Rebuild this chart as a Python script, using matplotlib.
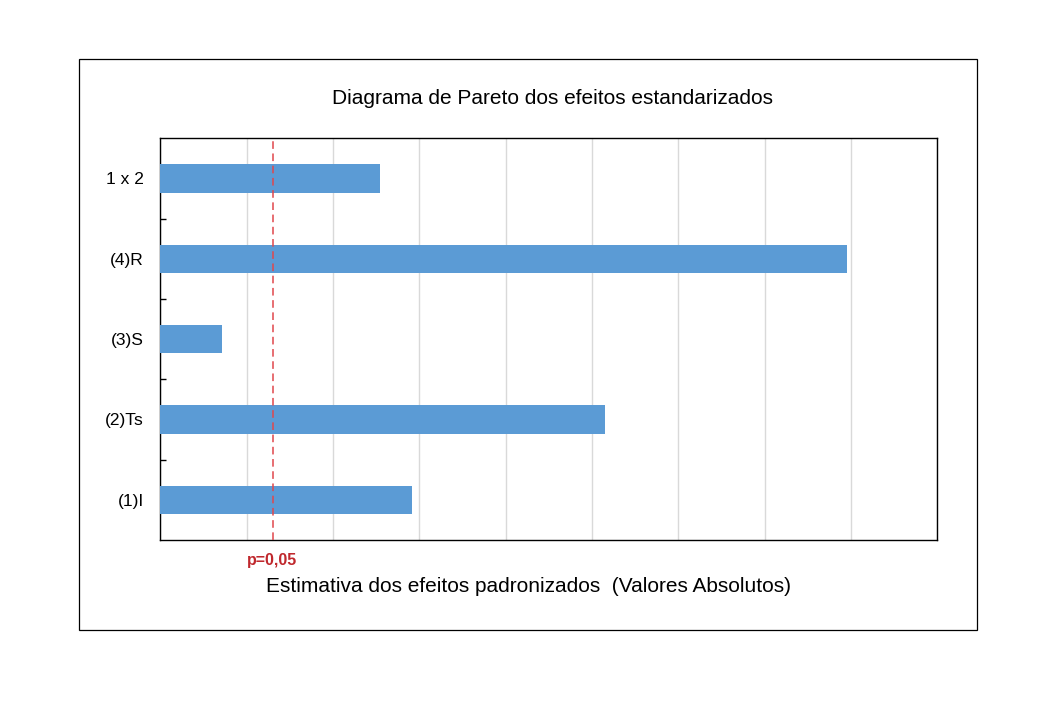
import matplotlib
matplotlib.use("Agg")
import matplotlib.pyplot as plt
from matplotlib.patches import Rectangle

plt.rcParams['font.family'] = ['Liberation Sans', 'DejaVu Sans']

categories = ["(1)I", "(2)Ts", "(3)S", "(4)R", "1 x 2"]
effects = [2.91, 5.15, 0.72, 7.95, 2.55]
p_value_line = 1.30
p_label = "p=0,05"
title = "Diagrama de Pareto dos efeitos estandarizados"
xlabel = "Estimativa dos efeitos padronizados  (Valores Absolutos)"

fig = plt.figure(figsize=(10.4, 7.2), dpi=100)
fig.patches.append(Rectangle((79/1040, 1-630/720), (977-79)/1040, (630-59)/720,
                             transform=fig.transFigure, fill=False,
                             edgecolor='black', linewidth=0.9))

ax = fig.add_axes([160.3/1040, 1-540/720, (937.3-160.3)/1040, (540-138.3)/720])
y = list(range(len(categories)))
ax.barh(y, effects, height=0.35, color='#5B9BD5', zorder=3)
ax.set_xlim(0, 9)
ax.set_ylim(-0.5, len(categories)-0.5)
ax.set_xticks(range(0, 10))
ax.xaxis.grid(True, color='#D9D9D9', linewidth=1, zorder=0)
ax.tick_params(axis='x', length=0, labelbottom=False)
ax.set_yticks(y)
ax.set_yticklabels(categories, fontsize=12.5)
ax.set_yticks([i + 0.5 for i in y[:-1]], minor=True)
ax.tick_params(axis='y', which='both', direction='in', length=4, width=1, color='black', pad=12)
for s in ax.spines.values():
    s.set_color('black')
    s.set_linewidth(1)
ax.axvline(p_value_line, color='#E0474C', linestyle=(0, (5, 3)), linewidth=1.1, zorder=4)

ax.annotate(p_label, xy=(p_value_line, -0.5), xycoords='data', xytext=(0, -9),
            textcoords='offset points', color='#C0282D', fontsize=11.5,
            fontweight='bold', ha='center', va='top')
fig.text(553/1040, 1-98/720, title, ha='center', va='center', fontsize=15)
fig.text(528/1040, 1-587/720, xlabel, ha='center', va='center', fontsize=15)

fig.savefig("out.png", dpi=100)
